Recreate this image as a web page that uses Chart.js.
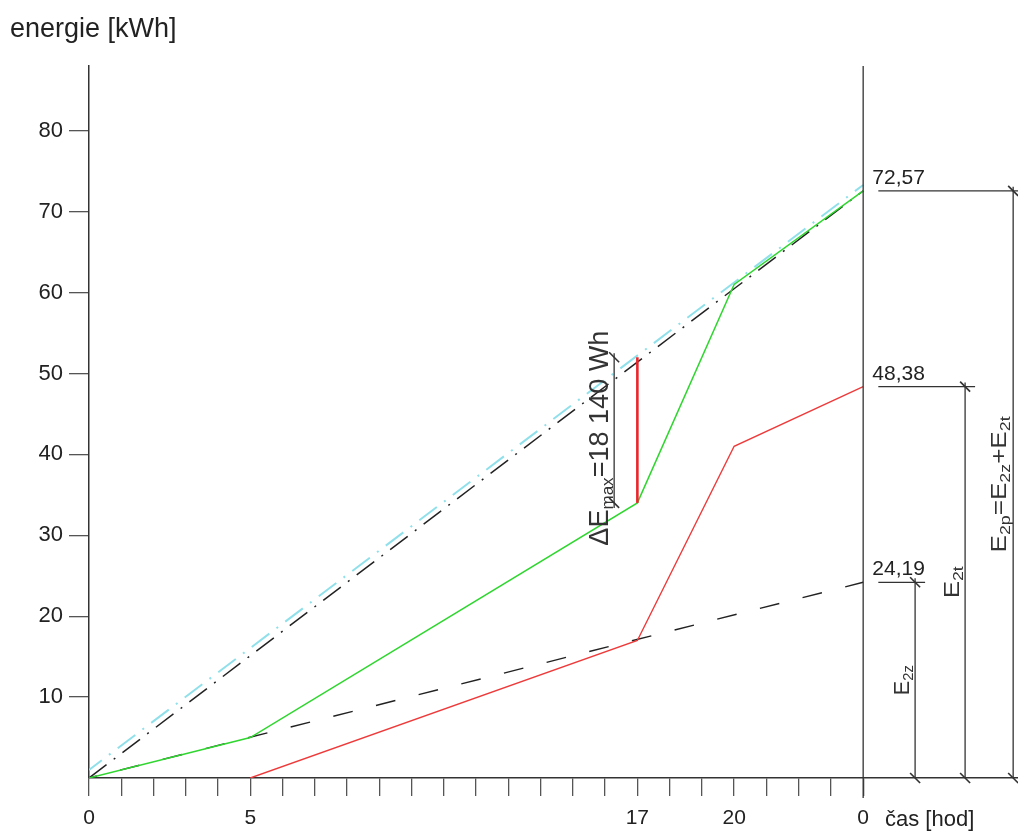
<!DOCTYPE html>
<html>
<head>
<meta charset="utf-8">
<script src="https://cdn.jsdelivr.net/npm/chart.js@4"></script>
<style>
html, body { margin: 0; padding: 0; background: #fff; }
#wrap { width: 1018px; height: 831px; position: relative; }
</style>
</head>
<body>
<div id="wrap"><canvas id="energy_chart"></canvas></div>
<script>
// time axis ticks [hod], every hour, only a few labelled
const hourTicks = [0,1,2,3,4,5,6,7,8,9,10,11,12,13,14,15,16,17,18,19,20,21,22,23,24]
const hourLabels = {0: '0', 5: '5', 17: '17', 20: '20', 24: '0'}
const energyTicks = [10, 20, 30, 40, 50, 60, 70, 80]

// green - cumulative consumption
const greenHours = [0, 5, 17, 20, 24]
const greenEnergy = [0, 5, 34, 61, 72.57]
// red - second curve
const redHours = [5, 17, 20, 24]
const redEnergy = [0, 17, 41, 48.38]
// black dashed - E2z
const dashHours = [0, 24]
const dashEnergy = [0, 24.19]
// black dash-dot - E2p
const dashDotHours = [0, 24]
const dashDotEnergy = [0, 72.57]
// cyan dash-dot
const cyanHours = [0, 24]
const cyanEnergy = [1, 73.3]
// delta E max at 17 h
const deltaHours = [17, 17]
const deltaEnergy = [34, 52]

// totals at midnight, shown as dimensions on the right
const totalValues = [24.19, 48.38, 72.57]
const totalLabels = ['24,19', '48,38', '72,57']

function pts(xs, ys) {
    return xs.map((x, i) => ({x: x, y: ys[i]}))
}

const TEXT = '#222'
const LINE = '#333'
const FONT = '"Liberation Sans", Arial, sans-serif'

// rotated CAD-like text, reads bottom to top, squeezed to a given length
function rotatedText(ctx, parts, baseX, centerY, len) {
    let total = 0
    parts.forEach(p => {
        ctx.font = p.size + 'px ' + FONT
        p.w = ctx.measureText(p.t).width
        total += p.w
    })
    const s = len / total
    ctx.save()
    ctx.translate(baseX, centerY + len / 2)
    ctx.rotate(-Math.PI / 2)
    ctx.scale(s, 1)
    ctx.fillStyle = '#333'
    ctx.textBaseline = 'alphabetic'
    let x = 0
    parts.forEach(p => {
        ctx.font = p.size + 'px ' + FONT
        ctx.fillText(p.t, x, p.dy || 0)
        x += p.w
    })
    ctx.restore()
}

const annotations = {
    id: 'annotations',
    afterDraw(chart) {
        const ctx = chart.ctx
        const xs = chart.scales.x, ys = chart.scales.y
        const px = v => xs.getPixelForValue(v)
        const py = v => ys.getPixelForValue(v)
        const area = chart.chartArea

        function line(x1, y1, x2, y2) {
            ctx.beginPath()
            ctx.moveTo(x1, y1)
            ctx.lineTo(x2, y2)
            ctx.stroke()
        }
        function slash(x, y) {
            ctx.save()
            ctx.lineWidth = 1.6
            line(x - 5, y - 5, x + 5, y + 5)
            ctx.restore()
        }

        ctx.save()
        ctx.strokeStyle = LINE
        ctx.lineWidth = 1.3

        // midnight line
        line(px(24), area.top, px(24), py(0) + 20)

        // dimension lines on the right
        const dimStart = 24.47
        const dimX = [25.61, 27.16, 28.65]
        const dimEnd = [25.92, 27.47, 28.9]
        totalValues.forEach((v, i) => {
            line(px(dimStart), py(v), px(dimEnd[i]), py(v))
            line(px(dimX[i]), py(v) - 4, px(dimX[i]), py(0))
            slash(px(dimX[i]), py(v))
            slash(px(dimX[i]), py(0))
            ctx.fillStyle = TEXT
            ctx.font = '21px ' + FONT
            ctx.textAlign = 'left'
            ctx.textBaseline = 'alphabetic'
            ctx.fillText(totalLabels[i], px(dimStart) - 6, py(v) - 7)
        })

        // delta E dimension
        const dX = 16.28
        line(px(dX), py(deltaEnergy[1]) - 4, px(dX), py(deltaEnergy[0]) + 5)
        slash(px(dX), py(deltaEnergy[1]))
        slash(px(dX), py(deltaEnergy[0]))

        rotatedText(ctx, [
            {t: 'ΔE', size: 27},
            {t: 'max', size: 17, dy: 5},
            {t: '=18 140 Wh', size: 27}
        ], px(dX) - 6, py(42), 215)

        rotatedText(ctx, [
            {t: 'E', size: 22},
            {t: '2z', size: 15, dy: 4}
        ], px(dimX[0]) - 6, py(totalValues[0] / 2), 30)

        rotatedText(ctx, [
            {t: 'E', size: 22},
            {t: '2t', size: 15, dy: 4}
        ], px(dimX[1]) - 6, py(totalValues[1] / 2), 32)

        rotatedText(ctx, [
            {t: 'E', size: 22},
            {t: '2p', size: 15, dy: 4},
            {t: '=', size: 22},
            {t: 'E', size: 22},
            {t: '2z', size: 15, dy: 4},
            {t: '+', size: 22},
            {t: 'E', size: 22},
            {t: '2t', size: 15, dy: 4}
        ], px(dimX[2]) - 7, py(totalValues[2] / 2), 136)

        // axis titles
        ctx.fillStyle = TEXT
        ctx.textAlign = 'left'
        ctx.textBaseline = 'alphabetic'
        ctx.font = '27px ' + FONT
        ctx.fillText('energie [kWh]', 10, 37)
        ctx.font = '22px ' + FONT
        ctx.fillText('čas [hod]', 885, 826)

        ctx.restore()
    }
}

let ctx = document.getElementById('energy_chart').getContext('2d')
let chart = new Chart(ctx, {
    type: 'line',
    data: {
        datasets: [
            {data: pts(deltaHours, deltaEnergy), borderColor: '#e8262b', borderWidth: 2.6},
            {data: pts(greenHours, greenEnergy), borderColor: '#2fd62f', borderWidth: 1.5},
            {data: pts(redHours, redEnergy), borderColor: '#ee3a3a', borderWidth: 1.4},
            {data: pts(dashDotHours, dashDotEnergy), borderColor: '#222', borderWidth: 1.5, borderDash: [22, 9, 2, 9]},
            {data: pts(dashHours, dashEnergy), borderColor: '#222', borderWidth: 1.4, borderDash: [20, 24], borderDashOffset: 12},
            {data: pts(cyanHours, cyanEnergy), borderColor: '#8fe0ea', borderWidth: 2, borderDash: [22, 9, 2, 9], borderDashOffset: 6}
        ]
    },
    options: {
        responsive: true,
        maintainAspectRatio: false,
        animation: false,
        layout: {padding: {top: 66, right: 0, bottom: 0, left: 0}},
        elements: {
            point: {radius: 0},
            line: {tension: 0, fill: false}
        },
        plugins: {
            legend: {display: false},
            tooltip: {enabled: false}
        },
        scales: {
            x: {
                type: 'linear',
                min: 0,
                max: 28.8,
                afterBuildTicks: scale => { scale.ticks = hourTicks.map(v => ({value: v})) },
                afterFit: scale => { scale.height = 53 },
                ticks: {
                    autoSkip: false,
                    maxRotation: 0,
                    padding: 10,
                    color: TEXT,
                    font: {family: FONT, size: 21},
                    callback: v => (hourLabels[v] !== undefined ? hourLabels[v] : '')
                },
                grid: {drawOnChartArea: false, tickLength: 18, color: '#555', lineWidth: 1.3},
                border: {color: LINE, width: 1.5}
            },
            y: {
                type: 'linear',
                min: 0,
                max: 88,
                afterBuildTicks: scale => { scale.ticks = energyTicks.map(v => ({value: v})) },
                afterFit: scale => { scale.width = 89 },
                ticks: {
                    padding: 6,
                    color: TEXT,
                    font: {family: FONT, size: 22}
                },
                grid: {drawOnChartArea: false, tickLength: 20, color: '#555', lineWidth: 1.3},
                border: {color: LINE, width: 1.5}
            }
        }
    },
    plugins: [annotations]
})
</script>
</body>
</html>
